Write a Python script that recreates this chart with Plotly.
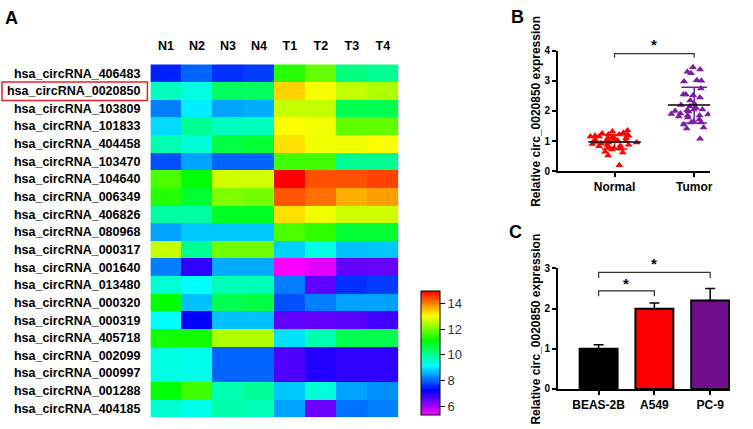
import numpy as np
import plotly.graph_objects as go

W, H = 753, 429
FONT = "Arial, Liberation Sans, sans-serif"

# ---------------- Panel A data ----------------
genes = ["hsa_circRNA_406483", "hsa_circRNA_0020850", "hsa_circRNA_103809", "hsa_circRNA_101833",
         "hsa_circRNA_404458", "hsa_circRNA_103470", "hsa_circRNA_104640", "hsa_circRNA_006349",
         "hsa_circRNA_406826", "hsa_circRNA_080968", "hsa_circRNA_000317", "hsa_circRNA_001640",
         "hsa_circRNA_013480", "hsa_circRNA_000320", "hsa_circRNA_000319", "hsa_circRNA_405718",
         "hsa_circRNA_002099", "hsa_circRNA_000997", "hsa_circRNA_001288", "hsa_circRNA_404185"]
samples = ["N1", "N2", "N3", "N4", "T1", "T2", "T3", "T4"]
N1 = [7.5, 9.67, 8.2, 8.9, 9.8, 7.85, 11.7, 11.4, 9.9, 8.47, 12.6, 8.2, 9.54, 11.1, 9.18, 11.25, 9.4, 9.4, 11.1, 9.54]
N2 = [8.0, 9.4, 9.05, 10.0, 9.47, 8.47, 11.1, 10.75, 9.9, 8.76, 10.0, 6.88, 9.18, 8.7, 7.24, 11.25, 9.35, 9.35, 11.6, 9.35]
N3 = [7.6, 10.4, 8.47, 9.67, 10.6, 8.0, 12.7, 12.1, 10.86, 8.76, 11.96, 8.53, 9.73, 10.5, 8.7, 12.45, 8.0, 8.0, 9.8, 9.83]
N4 = [7.7, 10.4, 8.57, 9.67, 10.75, 8.0, 12.7, 12.0, 10.86, 8.76, 11.96, 8.53, 9.73, 10.6, 8.7, 12.45, 8.0, 8.0, 9.96, 9.73]
T1 = [11.4, 13.4, 12.6, 13.06, 13.3, 11.6, 15.0, 14.35, 13.3, 11.7, 8.83, 5.3, 8.2, 7.85, 6.5, 8.95, 6.63, 6.63, 8.76, 8.47]
T2 = [11.9, 13.0, 12.6, 12.96, 12.96, 11.6, 14.4, 14.15, 12.96, 11.47, 9.4, 5.53, 6.5, 8.2, 6.5, 9.8, 6.98, 6.98, 9.47, 6.4]
T3 = [10.15, 12.6, 10.5, 11.86, 12.96, 10.0, 14.4, 13.67, 12.7, 10.75, 8.7, 6.5, 7.6, 8.47, 6.56, 10.5, 6.9, 6.9, 8.47, 8.1]
T4 = [10.0, 12.45, 10.5, 11.86, 13.06, 10.0, 14.5, 13.8, 12.7, 10.75, 8.76, 6.47, 7.7, 8.47, 6.75, 10.5, 6.9, 6.9, 8.34, 8.2]
cbar_ticks = [6, 8, 10, 12, 14]
highlight = "hsa_circRNA_0020850"

# ---------------- Panel B data ----------------
groups = ["Normal", "Tumor"]
normal_vals = [1.35, 1.32, 1.28, 1.25, 1.22, 1.22, 1.2, 1.18, 1.18, 1.15, 1.15, 1.12, 1.1, 1.1, 1.08,
               1.05, 1.05, 1.03, 1.0, 1.0, 0.98, 0.97, 0.95, 0.95, 0.93, 0.9, 0.88, 0.87, 0.85, 0.83,
               0.8, 0.78, 0.76, 0.75, 0.72, 0.65, 0.62, 0.52, 0.2]
tumor_vals = [3.45, 3.38, 3.3, 3.25, 3.02, 3.0, 2.98, 2.75, 2.55, 2.55, 2.52, 2.45, 2.35, 2.25, 2.2,
              2.15, 2.1, 2.05, 2.05, 2.02, 2.0, 1.98, 1.95, 1.92, 1.9, 1.88, 1.85, 1.85, 1.82, 1.78,
              1.72, 1.65, 1.62, 1.62, 1.55, 1.45, 1.42, 1.08]
b_ticks = [0, 1, 2, 3, 4]

# ---------------- Panel C data ----------------
cells = ["BEAS-2B", "A549", "PC-9"]
cell_means = [1.0, 2.0, 2.2]
cell_err = [0.1, 0.14, 0.3]
c_ticks = [0, 1, 2, 3]

y_title = "Relative circ_0020850 expression"

fig = go.Figure()

def px_x(p):
    return p / W

def px_y(p):
    return 1 - p / H

# ---- Heatmap ----
z = np.array([N1, N2, N3, N4, T1, T2, T3, T4]).T
colorscale = [[0.0, "#ff00ff"], [0.2, "#0000ff"], [0.4, "#00ffff"],
              [0.6, "#00ff00"], [0.8, "#ffff00"], [1.0, "#ff0000"]]
fig.add_trace(go.Heatmap(
    z=z, x=samples, y=genes, xaxis="x", yaxis="y",
    colorscale=colorscale, zmin=5.3, zmax=15,
    colorbar=dict(x=px_x(423), xanchor="left", y=px_y(357), yanchor="middle",
                  len=128 / H, lenmode="fraction", thickness=19, thicknessmode="pixels",
                  outlinewidth=1, outlinecolor="black", ticks="outside", ticklen=5,
                  tickcolor="black", tickvals=cbar_ticks, xpad=0, ypad=0,
                  tickfont=dict(family=FONT, size=13, color="#333333")),
    showscale=True, hoverinfo="skip"))

# ---- Panel B dot plot ----
b_colors = ["#ff0000", "#7b1fa2"]
for i, (g, vals) in enumerate(zip(groups, [normal_vals, tumor_vals])):
    fig.add_trace(go.Box(
        y=vals, x0=i, xaxis="x2", yaxis="y2", boxpoints="all", jitter=0.9, pointpos=0,
        width=0.72, line=dict(width=0, color=b_colors[i]), fillcolor="rgba(0,0,0,0)",
        marker=dict(symbol="triangle-up", size=7, color=b_colors[i]),
        showlegend=False, hoverinfo="skip"))
for i, vals in enumerate([normal_vals, tumor_vals]):
    m = float(np.mean(vals))
    s = float(np.std(vals, ddof=1))
    fig.add_trace(go.Scatter(x=[i - 0.16, i + 0.16, None, i - 0.16, i + 0.16, None, i, i],
                             y=[m + s, m + s, None, m - s, m - s, None, m - s, m + s],
                             mode="lines", line=dict(color=b_colors[i], width=1.5),
                             xaxis="x2", yaxis="y2", showlegend=False, hoverinfo="skip"))
    fig.add_trace(go.Scatter(x=[i - 0.33, i + 0.33], y=[m, m], mode="lines",
                             line=dict(color="black", width=1.5),
                             xaxis="x2", yaxis="y2", showlegend=False, hoverinfo="skip"))

# ---- Panel C bar chart ----
fig.add_trace(go.Bar(
    x=list(range(len(cells))), y=cell_means, xaxis="x3", yaxis="y3", width=0.68,
    marker=dict(color=["#000000", "#ff0000", "#720e8e"], line=dict(color="black", width=2)),
    error_y=dict(type="data", symmetric=False, array=cell_err, arrayminus=[0, 0, 0],
                 color="black", thickness=1.5, width=5),
    showlegend=False, hoverinfo="skip"))

axis_common = dict(showline=True, linecolor="black", linewidth=1.5, ticks="outside",
                   ticklen=4, tickcolor="black", tickwidth=1.5, showgrid=False, zeroline=False)

B_DOM_Y = [px_y(170), px_y(46)]
C_DOM_Y = [px_y(394), px_y(270)]

fig.update_layout(
    width=W, height=H, margin=dict(l=0, r=0, t=0, b=0),
    paper_bgcolor="white", plot_bgcolor="white", showlegend=False, boxmode="overlay",
    font=dict(family=FONT, color="black"),
    xaxis=dict(domain=[px_x(151), px_x(400)], anchor="y", side="top", showline=False,
               ticks="", showgrid=False, zeroline=False, ticklabelstandoff=11,
               tickfont=dict(family=FONT, size=12.5, weight="bold", color="black")),
    yaxis=dict(domain=[px_y(423), px_y(60)], anchor="x", autorange="reversed",
               showline=False, ticks="", showgrid=False, zeroline=False, ticklabelstandoff=9,
               tickfont=dict(family=FONT, size=12.5, weight="bold", color="black")),
    xaxis2=dict(domain=[px_x(560), px_x(713)], anchor="y2", range=[-0.7125, 1.2],
                tickvals=list(range(len(groups))), ticktext=groups,
                tickfont=dict(family=FONT, size=12, weight="bold"), **axis_common),
    yaxis2=dict(domain=B_DOM_Y, anchor="x2", range=[0, 4], tickvals=b_ticks,
                tickfont=dict(family=FONT, size=10, weight="bold"), **axis_common),
    xaxis3=dict(domain=[px_x(560), px_x(733)], anchor="y3", range=[-0.732, 2.357],
                tickvals=list(range(len(cells))), ticktext=cells,
                tickfont=dict(family=FONT, size=12, weight="bold"), **axis_common),
    yaxis3=dict(domain=C_DOM_Y, anchor="x3", range=[0, 3], tickvals=c_ticks,
                tickfont=dict(family=FONT, size=10, weight="bold"), **axis_common),
)

# y-axis titles (rotated)
for dom in (B_DOM_Y, C_DOM_Y):
    fig.add_annotation(x=px_x(538), y=(dom[0] + dom[1]) / 2, xref="paper", yref="paper",
                       text=y_title, textangle=-90, showarrow=False,
                       xanchor="center", yanchor="middle",
                       font=dict(family=FONT, size=12, weight="bold"))

# red highlight box around the label
hi = genes.index(highlight)
fig.add_shape(type="rect", xref="paper", yref="y", x0=px_x(2), x1=px_x(148),
              y0=hi - 0.5, y1=hi + 0.55, line=dict(color="#e8202a", width=1.5))

# significance brackets
def bracket(xa, ya, x0, x1, ytop, ybot):
    fig.add_shape(type="path", xref=xa, yref=ya,
                  path=f"M {x0} {ybot} L {x0} {ytop} L {x1} {ytop} L {x1} {ybot}",
                  line=dict(color="#333333", width=1.2))

def star(xa, ya_domain, x, y_frac):
    fig.add_annotation(x=x, y=y_frac, xref=xa, yref=ya_domain, text="*", showarrow=False,
                       xanchor="center", yanchor="middle",
                       font=dict(family=FONT, size=15, weight="bold"))

bracket("x2", "y2", 0, 1, 3.9, 3.77)
star("x2", "y2 domain", 0.5, 4.19 / 4)
bracket("x3", "y3", 0, 2, 2.9, 2.76)
star("x3", "y3 domain", 1, 3.12 / 3)
bracket("x3", "y3", 0, 1, 2.44, 2.31)
star("x3", "y3 domain", 0.5, 2.62 / 3)

# panel letters
for letter, lx, ly in [("A", 12, 12), ("B", 520, 11), ("C", 518, 233)]:
    fig.add_annotation(x=px_x(lx), y=px_y(ly), xref="paper", yref="paper", text=letter,
                       showarrow=False, xanchor="center", yanchor="middle",
                       font=dict(family=FONT, size=18, weight="bold"))

fig.write_html("out.html", config={"displayModeBar": False},
               post_script="document.body.style.margin='0';document.body.style.overflow='hidden';")
